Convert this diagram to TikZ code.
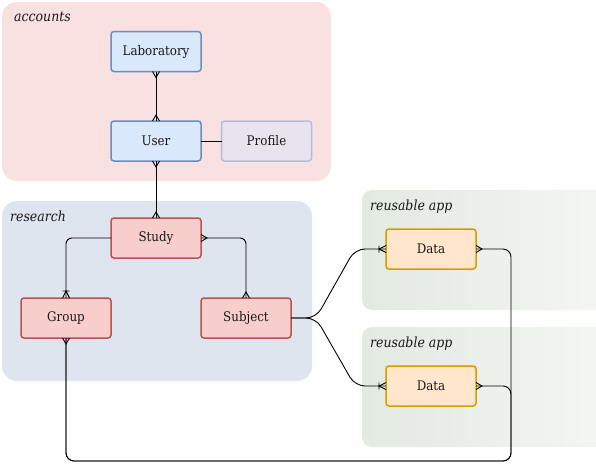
\documentclass[tikz,border=0pt]{standalone}
\usepackage{fontspec}
\setmainfont{DejaVu Serif Condensed}
\usetikzlibrary{arrows.meta}
\pgfdeclarearrow{
  name = Crow,
  parameters = {\the\pgfarrowlength,\the\pgfarrowwidth},
  setup code = {
    \pgfarrowssettipend{0pt}
    \pgfarrowssetlineend{0pt}
    \pgfarrowssetvisualbackend{-\pgfarrowlength}
    \pgfarrowssetbackend{-\pgfarrowlength}
    \pgfarrowshullpoint{0pt}{.5\pgfarrowwidth}
    \pgfarrowshullpoint{0pt}{-.5\pgfarrowwidth}
    \pgfarrowshullpoint{-\pgfarrowlength}{0pt}
    \pgfarrowssavethe\pgfarrowlength
    \pgfarrowssavethe\pgfarrowwidth
  },
  drawing code = {
    \pgfpathmoveto{\pgfqpoint{0pt}{.5\pgfarrowwidth}}
    \pgfpathlineto{\pgfqpoint{-\pgfarrowlength}{0pt}}
    \pgfpathlineto{\pgfqpoint{0pt}{-.5\pgfarrowwidth}}
    \pgfusepathqstroke
  },
  defaults = {length = 6pt, width = 7pt}
}
\pgfdeclarearrow{
  name = CrowOne,
  parameters = {\the\pgfarrowlength,\the\pgfarrowwidth},
  setup code = {
    \pgfarrowssettipend{0pt}
    \pgfarrowssetlineend{0pt}
    \pgfarrowssetvisualbackend{-\pgfarrowlength}
    \pgfarrowssetbackend{-\pgfarrowlength}
    \pgfarrowshullpoint{0pt}{.5\pgfarrowwidth}
    \pgfarrowshullpoint{0pt}{-.5\pgfarrowwidth}
    \pgfarrowshullpoint{-\pgfarrowlength}{.5\pgfarrowwidth}
    \pgfarrowshullpoint{-\pgfarrowlength}{-.5\pgfarrowwidth}
    \pgfarrowssavethe\pgfarrowlength
    \pgfarrowssavethe\pgfarrowwidth
  },
  drawing code = {
    \pgfpathmoveto{\pgfqpoint{0pt}{.5\pgfarrowwidth}}
    \pgfpathlineto{\pgfqpoint{-\pgfarrowlength}{0pt}}
    \pgfpathlineto{\pgfqpoint{0pt}{-.5\pgfarrowwidth}}
    \pgfpathmoveto{\pgfqpoint{-\pgfarrowlength}{.5\pgfarrowwidth}}
    \pgfpathlineto{\pgfqpoint{-\pgfarrowlength}{-.5\pgfarrowwidth}}
    \pgfusepathqstroke
  },
  defaults = {length = 7pt, width = 7pt}
}
\definecolor{accfill}{HTML}{F8E1E0}
\definecolor{resfill}{HTML}{DFE5EF}
\definecolor{reusl}{HTML}{E2EAE1}
\definecolor{reusr}{HTML}{F4F6F3}
\definecolor{bluefill}{HTML}{DAE8FC}
\definecolor{bluedraw}{HTML}{6C8EBF}
\definecolor{proffill}{HTML}{E7E4ED}
\definecolor{profdraw}{HTML}{B3BDD9}
\definecolor{redfill}{HTML}{F8CECC}
\definecolor{reddraw}{HTML}{B85450}
\definecolor{orfill}{HTML}{FFE6CC}
\definecolor{ordraw}{HTML}{D79B00}
\begin{document}
\begin{tikzpicture}[x=1pt,y=-1pt,
  entity/.style={draw, line width=1.5pt, rounded corners=3pt, minimum width=90pt,
    minimum height=40pt, inner sep=0pt, outer sep=0pt, text=black!90,
    font=\fontsize{13.2pt}{15pt}\selectfont},
  bluebox/.style={entity, fill=bluefill, draw=bluedraw},
  profbox/.style={entity, fill=proffill, draw=profdraw},
  redbox/.style={entity, fill=redfill, draw=reddraw},
  orbox/.style={entity, fill=orfill, draw=ordraw},
  grouplabel/.style={anchor=base west, inner sep=0pt, text=black!90, font=\fontsize{13.9pt}{16pt}\selectfont\itshape},
  rel/.style={line width=0.9pt, black},
]
\useasboundingbox (0,0) rectangle (596,471);
\clip (0,0) rectangle (596,471);
% clusters
\fill[accfill, rounded corners=15pt] (2,2) rectangle (331,181);
\fill[resfill, rounded corners=15pt] (2,201) rectangle (312,381);
\shade[left color=reusl, right color=reusr, rounded corners=10pt] (362,190) rectangle (612,310);
\shade[left color=reusl, right color=reusr, rounded corners=10pt] (362,327) rectangle (612,447);
\node[grouplabel] (lacc) at (14,21) {accounts};
\node[grouplabel] (lres) at (10,221) {research};
\node[grouplabel] (lre1) at (370,210) {reusable app};
\node[grouplabel] (lre2) at (370,347) {reusable app};
% entities
\node[bluebox] (lab) at (156,51.5) {Laboratory};
\node[bluebox] (user) at (156,141) {User};
\node[profbox] (profile) at (266.5,141) {Profile};
\node[redbox] (study) at (156,238) {Study};
\node[redbox] (group) at (66,318) {Group};
\node[redbox] (subject) at (246,318) {Subject};
\node[orbox] (data1) at (431,249) {Data};
\node[orbox] (data2) at (431,386) {Data};
% coordinates
\coordinate (fork1) at (316,318);
\coordinate (up1) at (355,249);
\coordinate (dn1) at (355,386);
\coordinate (r1) at (511,249);
\coordinate (r2) at (511,386);
\coordinate (br) at (511,461);
\coordinate (bl) at (66,461);
% relations
\draw[rel, {Crow}-{Crow}] (lab.south) -- (user.north);
\draw[rel, {Crow}-{Crow}] (user.south) -- (study.north);
\draw[rel] (user.east) -- (profile.west);
\draw[rel, -{CrowOne}, rounded corners=6pt] (study.west) -| (group.north);
\draw[rel, {Crow}-{Crow}, rounded corners=6pt] (study.east) -| (subject.north);
\draw[rel, -{CrowOne}, rounded corners=10pt] (subject.east) -- (fork1) -- (up1) -- (data1.west);
\draw[rel, -{CrowOne}, rounded corners=10pt] (subject.east) -- (fork1) -- (dn1) -- (data2.west);
\draw[rel, {Crow}-{Crow}, rounded corners=8pt] (data1.east) -- (r1) -- (br) -- (bl) -- (group.south);
\draw[rel, {Crow}-, rounded corners=8pt] (data2.east) -- (r2) -- (br) -- (bl) -- (group.south);
\end{tikzpicture}
\end{document}
